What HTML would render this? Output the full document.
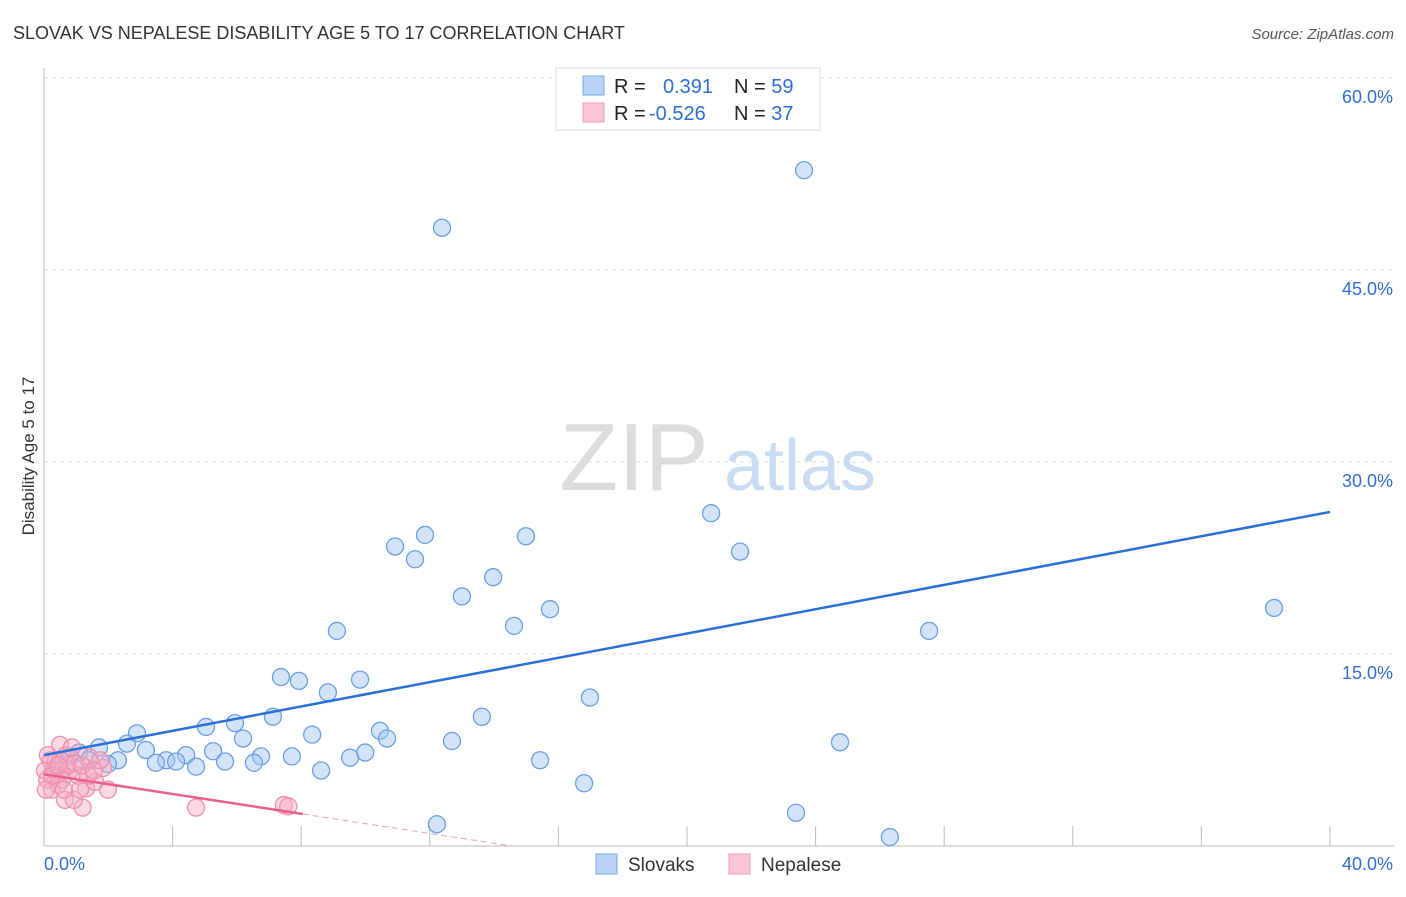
<!DOCTYPE html>
<html><head><meta charset="utf-8"><style>
body{margin:0;background:#fff;font-family:"Liberation Sans",sans-serif}
svg text{font-family:"Liberation Sans",sans-serif}
</style></head><body>
<svg id="c" width="1406" height="892">
<text x="13" y="39" font-size="18" fill="#333">SLOVAK VS NEPALESE DISABILITY AGE 5 TO 17 CORRELATION CHART</text>
<text x="1394" y="39" font-size="15" fill="#555" font-style="italic" text-anchor="end">Source: ZipAtlas.com</text>
<text transform="translate(34,456) rotate(-90)" font-size="17" fill="#333" text-anchor="middle">Disability Age 5 to 17</text>
<text x="634" y="490" font-size="96" fill="#ddd" font-family="Liberation Serif" text-anchor="middle">ZIP</text>
<text x="800" y="490" font-size="72" fill="#c9dcf2" text-anchor="middle">atlas</text>
<g id="grid"></g><g id="marks"></g>
<g>
<rect x="556" y="68" width="264" height="62" fill="#fff" stroke="#ddd"/>
<rect x="583" y="76" width="21" height="19" fill="#b8d3f5" stroke="#7aa7e6"/>
<rect x="583" y="103" width="21" height="19" fill="#f9c6d6" stroke="#ee9ab5"/>
<text x="614" y="93" font-size="20" fill="#222">R = <tspan fill="#2f6fd1" x="663">0.391</tspan><tspan fill="#222" x="734">N = </tspan><tspan fill="#2f6fd1">59</tspan></text>
<text x="614" y="120" font-size="20" fill="#222">R = <tspan fill="#2f6fd1" x="649">-0.526</tspan><tspan fill="#222" x="734">N = </tspan><tspan fill="#2f6fd1">37</tspan></text>
</g>
<g>
<rect x="596" y="854" width="21" height="20" fill="#b8d3f5" stroke="#7aa7e6"/>
<text x="628" y="871" font-size="19" fill="#333">Slovaks</text>
<rect x="729" y="854" width="21" height="20" fill="#f9c6d6" stroke="#ee9ab5"/>
<text x="761" y="871" font-size="19" fill="#333">Nepalese</text>
</g>
</svg>
<script>
const blueX=[23.64,12.38,20.75,21.65,38.26,27.53,10.92,11.85,11.54,14.99,13.97,13.0,15.74,14.62,9.11,7.37,7.93,9.83,8.83,16.98,13.62,7.12,5.94,5.04,10.45,10.67,8.34,6.19,12.69,24.76,2.89,2.58,1.71,1.09,3.17,4.42,5.26,9.99,9.52,7.71,6.75,3.80,4.11,3.48,2.30,1.99,5.63,6.53,4.73,15.43,8.62,16.8,23.39,12.22,26.31,0.5,0.34,0.8,1.4];
const blueY=[52.8,48.3,26.0,23.0,18.6,16.8,23.4,24.3,22.4,24.2,21.0,19.5,18.5,17.2,16.8,13.2,12.9,13.0,12.0,11.6,10.1,10.1,9.6,9.3,9.0,8.4,8.7,8.4,8.2,8.1,8.8,8.0,7.7,7.3,7.5,7.1,7.4,7.3,6.9,7.0,7.0,6.7,6.6,6.5,6.7,6.4,6.6,6.5,6.2,6.7,5.9,4.9,2.6,1.7,0.7,6.7,5.9,7.0,6.7];
const pinkX=[0.5,0.2,0.3,0.1,0.25,0.65,1.2,0.93,1.31,1.59,1.99,1.84,1.43,1.06,0.75,0.5,0.37,0.68,0.03,0.8,0.56,0.44,0.96,1.37,1.74,1.12,0.12,0.87,0.25,0.62,1.18,1.55,0.06,0.44,4.73,7.46,7.6];
const pinkY=[7.9,6.7,5.9,5.2,4.4,3.6,3.0,3.6,4.5,5.0,4.4,6.1,6.9,5.5,6.3,5.8,6.7,7.1,5.9,5.9,5.2,4.8,6.5,5.5,6.7,4.4,7.1,7.7,5.5,4.4,6.3,5.9,4.4,6.3,3.0,3.2,3.1];
const yTicks=[15,30,45,60];
const yTickLabels=["15.0%","30.0%","45.0%","60.0%"];
const xTicks=[0,4,8,12,16,20,24,28,32,36,40];
const blueTrend=[7.1,26.1];
const pinkTrend=[5.6,-0.385];
const X=v=>44+v/40*1286, Y=v=>846-v*12.8;
const NS="http://www.w3.org/2000/svg";
function mk(p,t,a){const e=document.createElementNS(NS,t);for(const k in a)e.setAttribute(k,a[k]);p.appendChild(e);return e;}
const g=document.getElementById('grid'), m=document.getElementById('marks');
let e=mk(g,'line',{x1:44,y1:68,x2:44,y2:846,stroke:'#bbb'});


e=mk(g,'line',{x1:44,y1:846,x2:1394,y2:846,stroke:'#bbb'});


yTicks.forEach((v,i)=>{
 e=mk(g,'line',{x1:44,y1:Y(v),x2:1394,y2:Y(v),stroke:'#ddd','stroke-dasharray':'4,4'});
 
 
 e=mk(g,'text',{x:1393,y:Y(v)+25,'font-size':18,fill:'#2f6fd1','text-anchor':'end'});e.textContent=yTickLabels[i];
 
 
});
xTicks.forEach(v=>{if(v===0)return;
 e=mk(g,'line',{x1:X(v),y1:826,x2:X(v),y2:846,stroke:'#bbb'});
 
 
});
e=mk(g,'text',{x:44,y:870,'font-size':18,fill:'#2f6fd1'});e.textContent='0.0%';


e=mk(g,'text',{x:1393,y:870,'font-size':18,fill:'#2f6fd1','text-anchor':'end'});e.textContent='40.0%';


blueX.forEach((x,i)=>{
 e=mk(m,'circle',{cx:X(x),cy:Y(blueY[i]),r:8.5,fill:'rgba(160,196,240,0.45)',stroke:'#6b9ee3','stroke-width':1.3});
 
 
});
pinkX.forEach((x,i)=>{
 e=mk(m,'circle',{cx:X(x),cy:Y(pinkY[i]),r:8.5,fill:'rgba(245,170,195,0.45)',stroke:'#ec90ad','stroke-width':1.3});
 
 
});
e=mk(m,'line',{x1:X(0),y1:Y(blueTrend[0]),x2:X(40),y2:Y(blueTrend[1]),stroke:'#2a6fd6','stroke-width':2.5});


const pe=8.05, pz=-pinkTrend[0]/pinkTrend[1];
e=mk(m,'line',{x1:X(0),y1:Y(pinkTrend[0]),x2:X(pe),y2:Y(pinkTrend[0]+pinkTrend[1]*pe),stroke:'#e8608a','stroke-width':2.5});


e=mk(m,'line',{x1:X(pe),y1:Y(pinkTrend[0]+pinkTrend[1]*pe),x2:X(pz),y2:Y(0),stroke:'#e8a0b5','stroke-width':1,'stroke-dasharray':'6,4'});


</script>
</body></html>
